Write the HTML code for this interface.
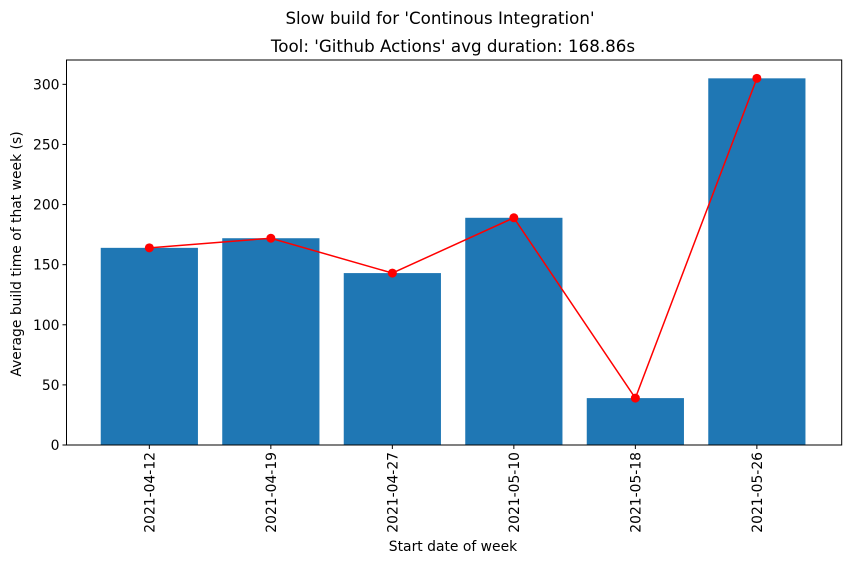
<!DOCTYPE html>
<html><head><meta charset="utf-8"><style>
body{margin:0;background:#fff;}
text{font-family:"DejaVu Sans","Liberation Sans",sans-serif;fill:#000;}
</style></head><body>
<svg id="chart" width="850" height="564" xmlns="http://www.w3.org/2000/svg">
<text x="440" y="24" font-size="16.7" text-anchor="middle">Slow build for 'Continous Integration'</text>
<text x="453" y="52" font-size="16.7" text-anchor="middle">Tool: 'Github Actions' avg duration: 168.86s</text>
<g id="plot"></g>
<text x="453" y="551" font-size="13.9" text-anchor="middle">Start date of week</text>
<text transform="translate(21,254) rotate(-90)" font-size="13.9" text-anchor="middle">Average build time of that week (s)</text>
</svg>
<script>
const categories=["2021-04-12","2021-04-19","2021-04-27","2021-05-10","2021-05-18","2021-05-26"];
const values=[164,172,143,189,39,305];
const yTicks=[0,50,100,150,200,250,300];
const L=66.5,R=841.7,T=60,B=445;
const xmin=-0.69,xmax=categories.length-1+0.69;
const ymax=Math.max(...values)*1.05;
const xs=i=>L+(i-xmin)/(xmax-xmin)*(R-L)-1;
const ys=v=>B-v/ymax*(B-T);
const NS="http://www.w3.org/2000/svg";
const g=document.getElementById('plot');
function mk(t,a){const e=document.createElementNS(NS,t);for(const k in a)e.setAttribute(k,a[k]);g.appendChild(e);return e;}
const bw=0.8*(R-L)/(xmax-xmin);
values.forEach((v,i)=>{
 const r=mk('rect',{x:xs(i)-bw/2,y:ys(v),width:bw,height:B-ys(v),fill:'#1f77b4'});
 
 
});
const pl=mk('polyline',{points:values.map((v,i)=>xs(i)+','+ys(v)).join(' '),fill:'none',stroke:'#ff0000','stroke-width':1.5});


values.forEach((v,i)=>{
 const c=mk('circle',{cx:xs(i),cy:ys(v),r:4.5,fill:'#ff0000'});
 
 
});
const fr=mk('rect',{x:L,y:T,width:R-L,height:B-T,fill:'none',stroke:'#000','stroke-width':1});


yTicks.forEach(t=>{
 const y=ys(t);
 mk('line',{x1:L-4,x2:L,y1:y,y2:y,stroke:'#000'});
 const tx=mk('text',{x:L-7,y:y+5,'font-size':13.9,'text-anchor':'end'});
 tx.textContent=t;
 
 
});
categories.forEach((c,i)=>{
 const x=xs(i);
 mk('line',{x1:x,x2:x,y1:B,y2:B+4,stroke:'#000'});
 const tx=mk('text',{transform:`translate(${x+5},${B+7}) rotate(-90)`,'font-size':13.9,'text-anchor':'end'});
 tx.textContent=c;
 
 
});
</script>
</body></html>
